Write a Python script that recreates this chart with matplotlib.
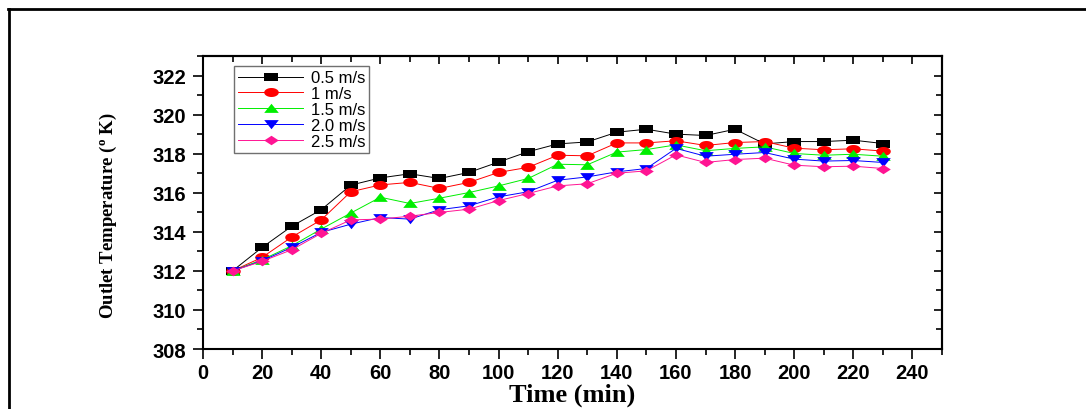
import matplotlib
matplotlib.use('Agg')
import matplotlib.pyplot as plt
from matplotlib.lines import Line2D
from matplotlib.ticker import MultipleLocator
import numpy as np

# time axis (min)
time_min = [10, 20, 30, 40, 50, 60, 70, 80, 90, 100, 110, 120,
            130, 140, 150, 160, 170, 180, 190, 200, 210, 220, 230]

# outlet temperature for each air velocity
temp_05 = [312.0, 313.2, 314.28, 315.13, 316.39, 316.76, 316.97, 316.73, 317.04, 317.57, 318.1, 318.5,
           318.6, 319.1, 319.25, 319.0, 318.93, 319.25, 318.5, 318.62, 318.62, 318.69, 318.52]
temp_10 = [312.0, 312.69, 313.73, 314.61, 316.05, 316.4, 316.53, 316.22, 316.53, 317.04, 317.3, 317.92,
           317.89, 318.55, 318.55, 318.66, 318.42, 318.57, 318.62, 318.28, 318.2, 318.25, 318.13]
temp_15 = [312.0, 312.57, 313.28, 314.14, 314.96, 315.77, 315.45, 315.72, 316.01, 316.35, 316.73, 317.46,
           317.43, 318.08, 318.21, 318.45, 318.15, 318.27, 318.35, 318.01, 317.92, 317.97, 317.87]
temp_20 = [312.0, 312.52, 313.2, 313.97, 314.39, 314.73, 314.65, 315.13, 315.33, 315.79, 316.05, 316.64,
           316.81, 317.07, 317.24, 318.27, 317.87, 317.97, 318.06, 317.72, 317.62, 317.65, 317.55]
temp_25 = [312.0, 312.49, 313.08, 313.92, 314.61, 314.65, 314.8, 314.99, 315.16, 315.6, 315.96, 316.35,
           316.46, 317.0, 317.12, 317.94, 317.55, 317.7, 317.77, 317.41, 317.33, 317.36, 317.24]

labels = ["0.5 m/s", "1 m/s", "1.5 m/s", "2.0 m/s", "2.5 m/s"]
colors = ["black", "#ff0000", "#00ee00", "#0000ff", "#ff1493"]

# the source picture is stretched sideways, so markers are wider than tall
t = np.linspace(0, 2 * np.pi, 30)
mk_square = [(-1, -0.6), (1, -0.6), (1, 0.6), (-1, 0.6), (-1, -0.6)]
mk_circle = list(zip(np.cos(t), 0.62 * np.sin(t)))
mk_up = [(-1, -0.6), (1, -0.6), (0, 0.65), (-1, -0.6)]
mk_down = [(-1, 0.6), (1, 0.6), (0, -0.65), (-1, 0.6)]
mk_diamond = [(-1, 0), (0, 0.65), (1, 0), (0, -0.65), (-1, 0)]
markers = [mk_square, mk_circle, mk_up, mk_down, mk_diamond]

series = [temp_05, temp_10, temp_15, temp_20, temp_25]

fig = plt.figure(figsize=(10.86, 4.1), dpi=100)
ax = fig.add_axes([0.1869, 0.1463, 0.6805, 0.7147])

for y, lab, c, m in zip(series, labels, colors, markers):
    ax.plot(time_min, y, color=c, lw=0.7, marker=m, markersize=10.5,
            markeredgewidth=0, label=lab)

ax.set_xlim(0, 250)
ax.set_ylim(308, 323)
ax.xaxis.set_major_locator(MultipleLocator(20))
ax.xaxis.set_minor_locator(MultipleLocator(10))
ax.yaxis.set_major_locator(MultipleLocator(2))
ax.yaxis.set_minor_locator(MultipleLocator(1))

for s in ax.spines.values():
    s.set_linewidth(1.5)

# bottom / left ticks point out
ax.tick_params(which='major', direction='out', length=7, width=1.2, pad=3)
ax.tick_params(which='minor', direction='out', length=4.5, width=1.2)
ax.tick_params(axis='y', which='major', pad=5)
for lbl in ax.get_xticklabels() + ax.get_yticklabels():
    lbl.set_fontfamily('Liberation Sans')
    lbl.set_fontweight('bold')
    lbl.set_fontsize(14.5)

# top / right ticks point in
top = ax.secondary_xaxis('top')
top.xaxis.set_major_locator(MultipleLocator(20))
top.xaxis.set_minor_locator(MultipleLocator(10))
top.tick_params(which='major', direction='in', length=6, width=1.2, labeltop=False)
top.tick_params(which='minor', direction='in', length=4, width=1.2)
right = ax.secondary_yaxis('right')
right.yaxis.set_major_locator(MultipleLocator(2))
right.yaxis.set_minor_locator(MultipleLocator(1))
right.tick_params(which='major', direction='in', length=6, width=1.2, labelright=False)
right.tick_params(which='minor', direction='in', length=4, width=1.2)
top.spines['top'].set_linewidth(1.5)
right.spines['right'].set_linewidth(1.5)

ax.set_xlabel("Time (min)", fontfamily='Liberation Serif', fontweight='bold', fontsize=19)
ax.xaxis.set_label_coords(0.5, -0.115)
ax.set_ylabel(r"Outlet Temperature ($\mathregular{^{o}}$ K)", fontfamily='Liberation Serif',
              fontweight='bold', fontsize=13.5)
ax.yaxis.set_label_coords(-0.113, 0.46)

leg = ax.legend(loc='upper left', bbox_to_anchor=(0.042, 0.965), prop={'family': 'Liberation Sans', 'size': 12},
                handlelength=3.9, handletextpad=0.45, labelspacing=0.05, borderpad=0.25,
                fancybox=False, framealpha=1, edgecolor='#707070', borderaxespad=0)
leg.get_frame().set_linewidth(1.0)

# outer frame of the figure (top and left edges visible)
fig.add_artist(Line2D([8 / 1086, 1.0], [1 - 10 / 410, 1 - 10 / 410], color='black', lw=2))
fig.add_artist(Line2D([9 / 1086, 9 / 1086], [0.0, 1 - 10 / 410], color='black', lw=2))

plt.savefig('out.png', dpi=100)
plt.close()
